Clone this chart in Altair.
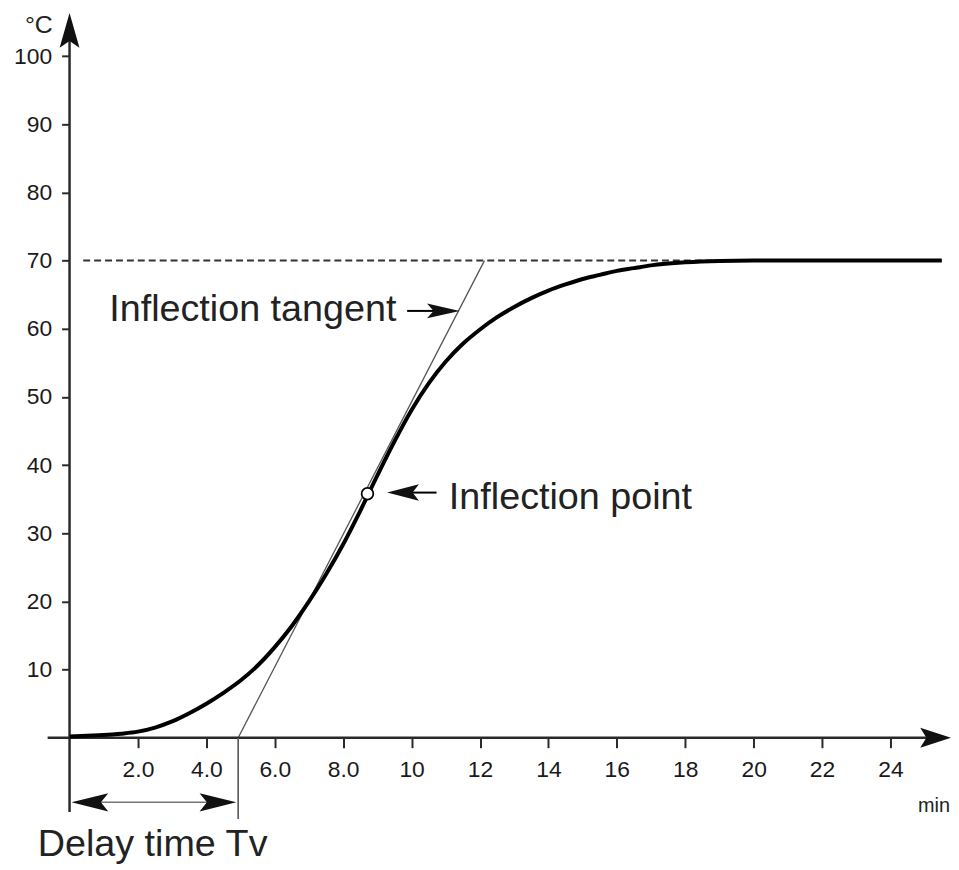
import altair as alt
import pandas as pd

# ---------------- data ----------------
time_min = [0, 0.5, 1.0, 1.5, 2.0, 2.5, 3.0, 3.5, 4.0, 4.5, 5.0, 5.5, 6.0, 6.5,
            7.0, 7.5, 8.0, 8.5, 9.0, 9.5, 10.0, 10.5, 11.0, 11.5, 12.0, 12.5,
            13.0, 13.5, 14.0, 14.5, 15.0, 15.5, 16.0, 16.5, 17.0, 18.0, 19.0,
            20.0, 22.0, 24.0, 25.5]
temp_c = [0.2, 0.3, 0.4, 0.6, 0.9, 1.5, 2.4, 3.6, 5.0, 6.6, 8.4, 10.6, 13.3, 16.4,
          20.0, 24.0, 28.4, 33.3, 38.5, 43.5, 48.1, 52.0, 55.2, 57.8, 59.9, 61.7,
          63.2, 64.5, 65.6, 66.5, 67.3, 67.9, 68.5, 68.9, 69.3, 69.75, 69.95,
          70.0, 70.0, 70.0, 70.0]

x_ticks = [2, 4, 6, 8, 10, 12, 14, 16, 18, 20, 22, 24]
y_ticks = [10, 20, 30, 40, 50, 60, 70, 80, 90, 100]

setpoint = 70.0
delay_time = 4.93          # tangent crosses 0 °C
tangent_top = 12.13        # tangent reaches 70 °C
inflection_t = 8.71
inflection_T = 35.8

FONT = "Liberation Sans"
X_MAX = 25.77
Y_MAX = 106.3

xs = alt.Scale(domain=[0, X_MAX], nice=False, zero=False)
ys = alt.Scale(domain=[0, Y_MAX], nice=False, zero=False)

AX = alt.Axis(
    values=x_ticks, title=None, domain=False, grid=False,
    tickSize=10, tickWidth=2, tickColor="#2a2a2a",
    labelFont=FONT, labelFontSize=23, labelColor="#1a1a1a",
    labelPadding=11, labelOverlap=False, labelFlush=False,
    labelExpr="datum.value < 10 ? format(datum.value, '.1f') : format(datum.value, 'd')")
AY = alt.Axis(
    values=y_ticks, title=None, domain=False, grid=False,
    tickSize=8, tickWidth=2, tickColor="#2a2a2a",
    labelFont=FONT, labelFontSize=23, labelColor="#1a1a1a",
    labelPadding=10, labelOverlap=False, labelFlush=False,
    labelExpr="format(datum.value, 'd')")


def X(f):
    return alt.X(f"{f}:Q", scale=xs, axis=AX)


def Y(f):
    return alt.Y(f"{f}:Q", scale=ys, axis=AY)


# ---------------- curve ----------------
curve_df = pd.DataFrame({"t": time_min, "T": temp_c})
curve = alt.Chart(curve_df).mark_line(
    color="#000000", strokeWidth=4, interpolate="monotone"
).encode(x=X("t"), y=Y("T"))

# dashed setpoint line
dash_df = pd.DataFrame({"x0": [0.4], "x1": [25.5], "y": [setpoint]})
dashed = alt.Chart(dash_df).mark_rule(
    color="#333333", strokeWidth=2, strokeDash=[7, 4]
).encode(x=X("x0"), x2="x1", y=Y("y"))

# inflection tangent
tan_df = pd.DataFrame({"t": [delay_time, tangent_top], "T": [0, setpoint]})
tangent = alt.Chart(tan_df).mark_line(color="#555555", strokeWidth=1.3).encode(
    x=X("t"), y=Y("T"))

# inflection point
ip_df = pd.DataFrame({"t": [inflection_t], "T": [inflection_T]})
ipoint = alt.Chart(ip_df).mark_circle(
    fill="white", stroke="#000000", strokeWidth=1.8, size=140, opacity=1
).encode(x=X("t"), y=Y("T"))

# axis lines (horizontal and vertical) and delay-time markers
hrule_df = pd.DataFrame({
    "x0": [-0.64, 0.25], "x1": [25.4, 4.65], "y": [0, -9.47],
    "w": [2.5, 1.5], "c": ["#2a2a2a", "#777777"]})
hrules = alt.Chart(hrule_df).mark_rule().encode(
    x=X("x0"), x2="x1", y=Y("y"),
    strokeWidth=alt.StrokeWidth("w:Q", scale=None),
    color=alt.Color("c:N", scale=None))

vrule_df = pd.DataFrame({
    "x": [0, delay_time], "y0": [-10.9, -11.9], "y1": [102.5, 0],
    "w": [2.5, 1.6], "c": ["#2a2a2a", "#555555"]})
vrules = alt.Chart(vrule_df).mark_rule().encode(
    x=X("x"), y=Y("y0"), y2="y1",
    strokeWidth=alt.StrokeWidth("w:Q", scale=None),
    color=alt.Color("c:N", scale=None))

# annotation arrow shafts
shaft_df = pd.DataFrame({"x0": [9.87, 10.0], "x1": [10.7, 10.73], "y": [62.62, 35.97]})
shafts = alt.Chart(shaft_df).mark_rule(color="#000000", strokeWidth=2).encode(
    x=X("x0"), x2="x1", y=Y("y"))


def head(k):
    return f"M1,0L-1,{-k}L-0.6,0L-1,{k}Z"


heads_df = pd.DataFrame({
    "x": [25.32, 0.0, 10.93, 9.75, 0.595, 4.338],
    "y": [0.0, 103.76, 62.62, 35.97, -9.47, -9.47],
    "angle": [0, 270, 0, 180, 180, 0],
    "shape": [head(0.645), head(0.571), head(0.45), head(0.52), head(0.5), head(0.5)],
    "size": [31 ** 2, 35 ** 2, 33 ** 2, 32 ** 2, 37 ** 2, 37 ** 2],
})
heads = alt.Chart(heads_df).mark_point(
    filled=True, color="#111111", opacity=1, strokeWidth=0
).encode(
    x=X("x"), y=Y("y"),
    angle=alt.Angle("angle:Q", scale=None),
    shape=alt.Shape("shape:N", scale=None),
    size=alt.Size("size:Q", scale=None))

# texts
left_txt = pd.DataFrame({
    "label": ["Inflection tangent", "Inflection point", "Delay time Tv"],
    "x": [1.16, 11.09, -0.93],
    "y": [61.16, 33.49, -17.3],
    "fs": [38, 38, 38]})
texts_left = alt.Chart(left_txt).mark_text(
    align="left", baseline="alphabetic", font=FONT, color="#222222"
).encode(x=X("x"), y=Y("y"), text="label:N",
         size=alt.Size("fs:Q", scale=None))

right_txt = pd.DataFrame({
    "label": ["°C", "min"],
    "x": [-0.49, 25.74],
    "y": [103.4, -10.92],
    "fs": [25, 20]})
texts_right = alt.Chart(right_txt).mark_text(
    align="right", baseline="alphabetic", font=FONT, color="#222222"
).encode(x=X("x"), y=Y("y"), text="label:N",
         size=alt.Size("fs:Q", scale=None))

chart = alt.layer(
    dashed, tangent, hrules, vrules, curve, ipoint, shafts, heads,
    texts_left, texts_right
).properties(
    width=888, height=730,
    autosize=alt.AutoSizeParams(type="none"),
    padding={"left": 62, "top": 2, "right": 0, "bottom": 130},
    background="white",
).configure_view(stroke=None)

chart.save("out.html", embed_options={"renderer": "svg", "actions": False})
